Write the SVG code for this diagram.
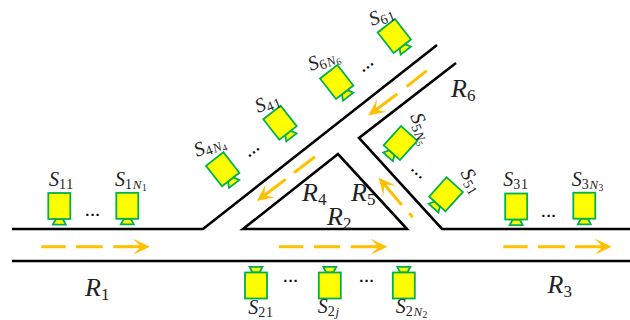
<svg xmlns="http://www.w3.org/2000/svg" width="630" height="320" viewBox="0 0 630 320">
<style>
.road{fill:none;stroke:#000;stroke-width:2.6;stroke-linejoin:miter}
.flow{fill:none;stroke:#FFC000;stroke-width:3}
.head{marker-end:url(#ah)}
.body{fill:#FFFF00;stroke:#00B050;stroke-width:1.8}
text{font-family:"Liberation Serif",serif;font-style:italic;fill:#222}
.s{font-size:20px}
.r{font-size:26px}
.dots{font-family:"Liberation Sans",sans-serif;font-style:normal;font-weight:bold;font-size:15px;letter-spacing:1px;fill:#111;text-anchor:middle}
.a{font-size:14px;font-style:normal;letter-spacing:.8px}
.b{font-size:13px;letter-spacing:.4px}
.c{font-size:9.5px;font-style:normal}
.d{font-size:17px;font-style:normal}
</style>
<defs>
<marker id="ah" markerUnits="userSpaceOnUse" markerWidth="20" markerHeight="20" refX="9" refY="10" orient="auto"><path d="M0,2 L17,10 L0,18 L8,10 Z" fill="#FFC000"/></marker>
<g id="cam"><path class="body" d="M-3.5,13 L3.5,13 L6.5,18.6 L-6.5,18.6 Z"/><rect class="body" x="-11" y="-13" width="22" height="26"/></g>
</defs>
<g id="connectors">
<path class="road" d="M12,229 H203 L437,45"/>
<path class="road" d="M12,261 H630"/>
<path class="road" d="M243,229 L338,154 L407,229 Z"/>
<path class="road" d="M456,63 L359,138 L442,229 H630"/>
<path class="flow" d="M41.3,246.7 H65.7 M76,246.7 H102.7"/><path class="flow head" d="M113.3,246.7 H142"/>
<path class="flow" d="M279,246.7 H303.3 M314,246.7 H340"/><path class="flow head" d="M350.7,246.7 H379.5"/>
<path class="flow" d="M503.3,246.7 H527.7 M538,246.7 H565"/><path class="flow head" d="M575,246.7 H603.7"/>
<path class="flow" d="M426.7,70.7 L406.7,86.7"/><path class="flow head" d="M397.3,94 L374.7,110.7"/>
<path class="flow" d="M315,156.7 L294,172.7"/><path class="flow head" d="M285.7,179.3 L263.2,196.2"/>
<path class="flow" d="M409.3,213.3 L412.7,217.3"/><path class="flow head" d="M401.7,205 L383.8,183.8"/>
</g>
<g id="S11"><use href="#cam" transform="translate(59.3,206)"/><text class="s" x="49" y="186">S<tspan class="a" dy="3">11</tspan></text></g>
<g id="S1N1"><use href="#cam" transform="translate(127.3,205.8)"/><text class="s" x="115" y="186">S<tspan class="a" dy="3">1</tspan><tspan class="b">N</tspan><tspan class="c" dy="2">1</tspan></text></g>
<g id="S21"><use href="#cam" transform="translate(256,285.5) scale(1,-1)"/><text class="s" x="248.3" y="314">S<tspan class="a" dy="3">21</tspan></text></g>
<g id="S2j"><use href="#cam" transform="translate(329.8,285.5) scale(1,-1)"/><text class="s" x="317.7" y="313">S<tspan class="a" dy="3">2</tspan><tspan class="b">j</tspan></text></g>
<g id="S2N2"><use href="#cam" transform="translate(403.8,285.5) scale(1,-1)"/><text class="s" x="395.7" y="313">S<tspan class="a" dy="3">2</tspan><tspan class="b">N</tspan><tspan class="c" dy="2">2</tspan></text></g>
<g id="S31"><use href="#cam" transform="translate(516.2,206.5)"/><text class="s" x="503.3" y="186">S<tspan class="a" dy="3">31</tspan></text></g>
<g id="S3N3"><use href="#cam" transform="translate(584.3,205.7)"/><text class="s" x="571.7" y="186">S<tspan class="a" dy="3">3</tspan><tspan class="b">N</tspan><tspan class="c" dy="2">3</tspan></text></g>
<g id="S4N4"><use href="#cam" transform="translate(222.7,169.3) rotate(-38)"/><text class="s" transform="translate(197,157) rotate(-22)">S<tspan class="a" dy="3">4</tspan><tspan class="b">N</tspan><tspan class="c" dy="2">4</tspan></text></g>
<g id="S41"><use href="#cam" transform="translate(280,122.7) rotate(-38)"/><text class="s" transform="translate(258,113) rotate(-22)">S<tspan class="a" dy="3">41</tspan></text></g>
<g id="S6N6"><use href="#cam" transform="translate(336.7,82) rotate(-38)"/><text class="s" transform="translate(311,71) rotate(-22)">S<tspan class="a" dy="3">6</tspan><tspan class="b">N</tspan><tspan class="c" dy="2">6</tspan></text></g>
<g id="S61"><use href="#cam" transform="translate(394.3,36) rotate(-38)"/><text class="s" transform="translate(372,26) rotate(-22)">S<tspan class="a" dy="3">61</tspan></text></g>
<g id="S5N5"><use href="#cam" transform="translate(400.5,143) rotate(42)"/><text class="s" transform="translate(410,116) rotate(68)">S<tspan class="a" dy="3">5</tspan><tspan class="b">N</tspan><tspan class="c" dy="2">5</tspan></text></g>
<g id="S51"><use href="#cam" transform="translate(446,194.3) rotate(42)"/><text class="s" transform="translate(460,173) rotate(60)">S<tspan class="a" dy="3">51</tspan></text></g>
<g id="labels">
<text class="r" x="85" y="296">R<tspan class="d" dy="4">1</tspan></text>
<text class="r" x="327" y="225">R<tspan class="d" dy="4">2</tspan></text>
<text class="r" x="547.5" y="293">R<tspan class="d" dy="4">3</tspan></text>
<text class="r" x="302" y="201">R<tspan class="d" dy="4">4</tspan></text>
<text class="r" x="351" y="201">R<tspan class="d" dy="4">5</tspan></text>
<text class="r" x="451" y="97">R<tspan class="d" dy="4">6</tspan></text>
<text class="dots" x="93" y="216">...</text>
<text class="dots" x="291" y="282">...</text>
<text class="dots" x="367" y="282">...</text>
<text class="dots" x="549" y="217">...</text>
<text class="dots" transform="translate(255,153) rotate(-38)">...</text>
<text class="dots" transform="translate(369,68) rotate(-38)">...</text>
<text class="dots" transform="translate(416,175) rotate(42)">...</text>
</g>
</svg>
